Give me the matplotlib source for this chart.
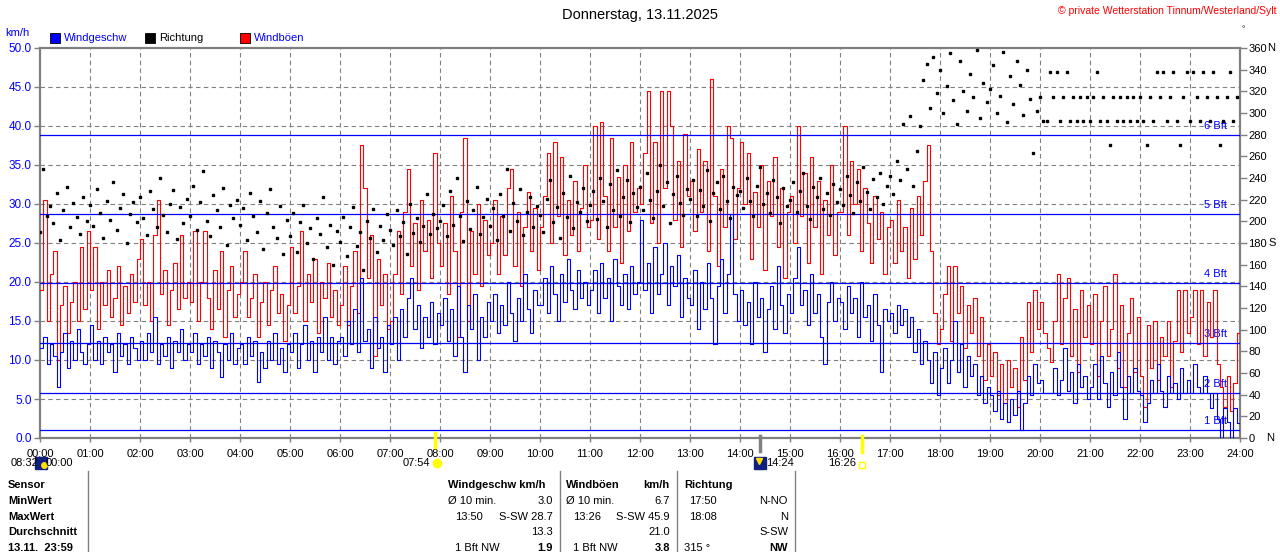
import numpy as np
import matplotlib.pyplot as plt
from matplotlib.lines import Line2D

plt.rcParams['font.family'] = ['Liberation Sans', 'DejaVu Sans']

# Werte im 4-Minuten-Raster, 15 Werte je Stunde (00 ... 23 Uhr)
windgeschw = [
    11.5, 13.0, 9.5, 12.0, 10.5, 6.5, 11.0, 13.5, 9.0, 12.5, 10.0, 14.0, 11.0, 9.5, 12.0,   # 00
    14.5, 10.0, 12.5, 9.5, 13.0, 11.0, 12.0, 8.5, 13.5, 10.5, 12.0, 9.5, 13.0, 11.5, 10.0,   # 01
    12.5, 10.0, 13.5, 11.0, 15.5, 9.5, 12.0, 10.5, 13.0, 9.0, 12.5, 11.0, 14.0, 10.0, 12.0,  # 02
    11.0, 13.5, 9.5, 12.0, 10.5, 13.0, 9.0, 12.5, 11.0, 7.8, 12.0, 10.0, 13.5, 9.5, 11.5,    # 03
    12.0, 9.5, 13.0, 10.5, 12.5, 7.2, 11.0, 9.0, 12.5, 10.0, 13.5, 9.5, 11.5, 8.5, 12.0,     # 04
    11.0, 13.5, 9.0, 12.0, 14.5, 10.0, 12.5, 8.5, 13.0, 11.0, 15.5, 10.0, 13.0, 9.5, 12.5,   # 05
    13.0, 10.5, 15.0, 12.0, 16.5, 11.0, 20.5, 12.5, 14.0, 9.0, 15.5, 11.5, 13.0, 8.5, 14.5,  # 06
    12.0, 15.5, 10.0, 16.5, 13.0, 18.0, 20.5, 14.0, 17.0, 11.5, 15.5, 13.0, 17.5, 12.0, 16.0,  # 07
    14.5, 18.0, 12.5, 16.5, 10.5, 19.5, 13.0, 8.5, 17.0, 14.0, 18.5, 10.0, 15.5, 13.0, 17.5,   # 08
    15.0, 18.5, 13.5, 17.0, 14.5, 20.0, 16.0, 12.5, 18.0, 15.0, 21.0, 16.5, 13.5, 19.0, 17.0,  # 09
    17.0, 20.5, 16.0, 22.0, 18.5, 15.0, 21.0, 17.5, 23.0, 19.0, 16.5, 21.5, 18.0, 20.0, 17.0,  # 10
    19.0, 21.5, 16.0, 22.5, 18.0, 20.5, 15.0, 23.0, 19.5, 17.0, 21.0, 16.5, 22.0, 18.5, 20.0,  # 11
    28.0, 19.0, 22.5, 16.0, 24.5, 18.5, 21.0, 25.0, 17.0, 22.0, 19.5, 23.5, 15.5, 20.5, 18.0,  # 12
    17.0, 21.5, 14.0, 20.0, 16.5, 22.5, 18.0, 12.0, 19.5, 23.0, 16.0, 21.0, 28.7, 18.5, 15.0,  # 13
    19.0, 14.5, 17.5, 12.0, 20.0, 15.5, 18.0, 11.0, 16.5, 19.5, 14.0, 22.0, 17.0, 13.5, 18.5,  # 14
    16.0, 20.5, 24.5, 17.0, 19.0, 14.5, 21.0, 16.0, 18.5, 13.0, 9.5, 17.5, 20.0, 15.0, 18.0,   # 15
    17.5, 14.0, 19.5, 16.0, 18.0, 13.0, 20.0, 15.5, 17.0, 12.5, 18.5, 14.5, 8.5, 16.5, 15.0,   # 16
    16.0, 13.5, 17.0, 14.5, 16.5, 13.0, 15.5, 11.0, 14.0, 9.5, 12.5, 10.0, 7.0, 11.0, 5.5,     # 17
    9.0, 11.5, 7.0, 10.0, 15.0, 8.5, 12.0, 6.5, 10.5, 8.0, 9.5, 5.5, 8.0, 4.5, 6.5,            # 18
    5.5, 3.5, 6.0, 2.5, 4.5, 2.0, 5.0, 3.0, 6.0, 1.0, 4.5, 8.0, 5.5, 9.5, 7.0,                 # 19
    7.5, 5.8, 5.8, 5.8, 9.0, 5.5, 7.5, 11.5, 6.0, 8.5, 4.5, 9.5, 6.5, 8.0, 5.0,                # 20
    6.5, 9.5, 5.0, 10.5, 7.0, 4.0, 8.5, 5.5, 11.0, 6.5, 2.5, 8.0, 5.8, 9.0, 6.0,               # 21
    5.5, 2.0, 4.5, 7.5, 5.8, 9.5, 6.0, 4.0, 8.0, 5.8, 7.0, 5.0, 9.0, 5.8, 7.5,                 # 22
    5.8, 9.5, 6.5, 5.8, 8.0, 5.8, 3.8, 5.8, 2.5, 0.0, 3.8, 2.0, 0.0, 3.8, 1.9,                 # 23
]

windboeen = [
    19.0, 30.5, 15.0, 21.0, 24.0, 10.0, 17.0, 19.5, 13.5, 17.5, 20.0, 15.0, 24.5, 16.5, 26.5,  # 00
    19.0, 24.5, 14.0, 20.0, 17.0, 21.5, 15.5, 18.0, 22.0, 14.5, 19.5, 16.0, 21.0, 17.5, 23.0,  # 01
    25.5, 17.0, 20.0, 15.0, 26.0, 30.5, 18.5, 21.5, 14.5, 19.0, 22.5, 16.5, 26.0, 18.0, 20.0,  # 02
    17.5, 26.5, 15.0, 20.0, 26.5, 18.0, 14.0, 21.5, 16.5, 24.0, 13.0, 19.0, 22.0, 15.5, 18.5,  # 03
    20.0, 24.0, 15.5, 18.0, 21.0, 13.0, 17.5, 20.0, 14.5, 19.0, 22.0, 16.0, 18.5, 12.5, 17.0,  # 04
    24.5, 16.0, 19.5, 26.5, 15.0, 21.0, 17.5, 23.0, 13.5, 20.0, 18.0, 22.5, 15.5, 19.0, 14.5,  # 05
    17.0, 22.0, 14.5, 19.5, 24.0, 16.0, 37.5, 32.0, 20.5, 26.0, 10.5, 23.0, 17.0, 21.0, 14.0,  # 06
    15.0, 21.0, 26.5, 18.5, 29.0, 34.5, 22.0, 27.5, 19.0, 30.5, 24.0, 28.0, 20.5, 36.5, 25.0,  # 07
    22.0, 27.5, 18.5, 31.0, 24.0, 13.0, 29.0, 38.5, 15.0, 26.5, 21.0, 30.0, 19.5, 28.0, 23.5,  # 08
    25.0, 30.5, 21.0, 28.5, 23.5, 32.0, 34.5, 22.0, 29.0, 19.5, 27.0, 31.5, 24.0, 29.5, 21.5,  # 09
    27.0, 31.0, 36.5, 25.0, 38.0, 28.5, 36.0, 23.5, 30.5, 26.0, 33.0, 24.0, 29.5, 35.0, 27.0,  # 10
    28.0, 40.0, 25.5, 40.5, 31.0, 24.0, 38.5, 27.0, 33.5, 22.5, 35.0, 26.5, 38.0, 29.0, 32.0,  # 11
    30.0, 36.5, 44.5, 27.5, 38.0, 25.0, 44.5, 32.0, 44.5, 40.0, 28.0, 35.5, 24.5, 39.0, 31.0,  # 12
    33.0, 26.5, 37.0, 29.0, 35.5, 24.0, 46.0, 31.0, 22.0, 34.5, 27.0, 40.0, 38.5, 25.5, 32.0,  # 13
    38.0, 30.0, 36.5, 23.0, 31.5, 27.0, 35.0, 21.5, 33.0, 28.5, 36.0, 24.5, 32.0, 20.5, 29.0,  # 14
    31.0, 25.0, 40.0, 28.5, 34.0, 22.5, 36.0, 27.0, 33.0, 21.0, 30.5, 26.0, 35.0, 23.5, 29.0,  # 15
    29.0, 40.0, 26.0, 35.5, 30.0, 34.5, 24.0, 32.0, 27.5, 22.5, 31.0, 25.5, 29.0, 21.0, 27.0,  # 16
    28.0, 22.5, 30.5, 24.0, 27.0, 20.5, 29.5, 23.0, 31.0, 26.0, 33.0, 37.5, 24.0, 16.0, 12.0,  # 17
    14.0, 18.5, 22.0, 12.5, 22.0, 16.0, 19.5, 11.5, 17.0, 13.5, 18.0, 10.5, 15.5, 7.5, 12.0,   # 18
    8.0, 11.0, 5.5, 9.5, 4.5, 10.0, 6.5, 9.0, 4.0, 13.0, 7.5, 17.5, 11.0, 19.0, 14.0,          # 19
    17.5, 13.5, 11.5, 9.8, 15.0, 21.0, 12.0, 18.0, 20.5, 10.5, 16.5, 8.5, 19.0, 13.0, 17.0,    # 20
    12.0, 18.5, 8.0, 15.0, 19.5, 10.5, 14.0, 21.0, 9.0, 17.0, 6.5, 13.5, 18.0, 8.5, 15.5,      # 21
    8.0, 4.0, 14.5, 9.0, 15.0, 7.5, 13.0, 10.5, 15.0, 6.5, 12.5, 19.0, 11.0, 19.0, 13.5,       # 22
    15.5, 19.0, 12.0, 19.0, 10.5, 17.5, 13.0, 19.0, 9.5, 6.5, 4.0, 8.0, 3.5, 7.0, 13.5,        # 23
]

richtung = [
    190, 248, 205, 214, 198, 226, 183, 210, 232, 195, 217, 204, 188, 222, 200,  # 00
    215, 196, 230, 208, 185, 219, 201, 236, 192, 212, 225, 180, 207, 218, 199,  # 01
    222, 203, 187, 228, 211, 195, 240, 206, 190, 216, 229, 184, 213, 198, 221,  # 02
    205, 233, 192, 218, 246, 200, 186, 224, 210, 195, 231, 178, 215, 203, 220,  # 03
    197, 212, 183, 226, 205, 190, 219, 174, 208, 230, 195, 185, 214, 170, 201,  # 04
    186, 208, 172, 199, 215, 180, 194, 165, 203, 188, 222, 176, 197, 160, 191,  # 05
    181, 204, 168, 195, 213, 177, 190, 155, 200, 185, 211, 172, 196, 183, 207,  # 06
    192, 178, 210, 186, 199, 170, 216, 189, 203, 181, 196, 225, 188, 207, 194,  # 07
    200, 215, 186, 228, 197, 240, 205, 182, 219, 193, 210, 232, 188, 204, 221,  # 08
    196, 212, 183, 225, 205, 248, 191, 217, 200, 230, 187, 209, 222, 195, 214,  # 09
    206, 190, 221, 238, 199, 213, 185, 226, 204, 242, 194, 218, 209, 231, 200,  # 10
    215, 228, 202, 240, 219, 195, 234, 210, 247, 205, 222, 238, 199, 226, 213,  # 11
    232, 210, 245, 220, 203, 228, 252, 214, 236, 198, 225, 242, 217, 206, 230,  # 12
    221, 238, 205, 229, 214, 247, 200, 226, 236, 211, 242, 219, 203, 232, 224,  # 13
    228, 212, 240, 219, 205, 233, 250, 216, 226, 208, 238, 222, 198, 231, 214,  # 14
    220, 236, 209, 228, 245, 214, 202, 232, 222, 240, 211, 226, 206, 234, 218,  # 15
    230, 215, 242, 224, 208, 236, 219, 250, 227, 211, 239, 222, 245, 216, 233,  # 16
    242, 225, 256, 238, 290, 248, 297, 233, 265, 288, 330, 345, 305, 352, 318,  # 17
    340, 300, 325, 355, 312, 290, 348, 320, 302, 336, 315, 358, 295, 328, 310,  # 18
    322, 344, 300, 316, 356, 292, 334, 308, 348, 326, 298, 340, 313, 263, 302,  # 19
    315, 292.5, 292.5, 337.5, 315, 337.5, 292.5, 315, 337.5, 292.5, 315, 292.5, 315, 292.5, 315,  # 20
    292.5, 315, 337.5, 292.5, 315, 292.5, 270, 315, 292.5, 315, 292.5, 315, 292.5, 315, 292.5,    # 21
    315, 292.5, 270, 315, 292.5, 337.5, 315, 337.5, 292.5, 315, 337.5, 292.5, 270, 315, 337.5,    # 22
    292.5, 337.5, 315, 292.5, 337.5, 315, 292.5, 337.5, 315, 270, 292.5, 315, 337.5, 292.5, 315,  # 23
]

bft_grenzen = [1.0, 5.8, 12.2, 19.9, 28.7, 38.8]
bft_namen = ['1 Bft', '2 Bft', '3 Bft', '4 Bft', '5 Bft', '6 Bft']

W, H = 1280, 552


def fx(x):
    return x / W


def fy(y):
    return 1 - y / H


t = np.arange(len(windgeschw)) * 4 / 60.0
t_step = np.append(t, 24.0)
wg = np.append(windgeschw, windgeschw[-1])
wb = np.append(windboeen, windboeen[-1])

fig = plt.figure(figsize=(12.8, 5.52), dpi=100)
ax = fig.add_axes([fx(40), fy(438), 1200 / W, 390 / H])

grau = '#808080'
blau = '#0000ff'

for h in range(1, 24):
    ax.axvline(h, color=grau, lw=0.8, ls=(0, (4, 3)), zorder=1)
for v in range(5, 50, 5):
    ax.axhline(v, color=grau, lw=0.8, ls=(0, (4, 3)), zorder=1)

for g, n in zip(bft_grenzen, bft_namen):
    ax.axhline(g, color=blau, lw=0.9, zorder=5)
    ax.text(23.74, g + 0.5, n, color=blau, fontsize=8, ha='right', va='bottom', zorder=2)

ax.plot(t_step, wb, color='#ff0000', lw=0.8, drawstyle='steps-post', zorder=3)
ax.plot(t_step, wg, color=blau, lw=0.8, drawstyle='steps-post', zorder=4)

ax.set_xlim(0, 24)
ax.set_ylim(0, 50)
ax.set_xticks(range(0, 25))
ax.set_xticklabels(['%02d:00' % h for h in range(0, 25)], fontsize=8)
ax.set_yticks(np.arange(0, 50.1, 5))
ax.set_yticklabels(['%.1f' % v for v in np.arange(0, 50.1, 5)], fontsize=8.5, color=blau)
ax.tick_params(axis='y', length=4, width=1, color=grau, pad=2)
ax.tick_params(axis='x', length=3, width=1, color=grau, pad=5)
for s in ax.spines.values():
    s.set_color(grau)
    s.set_linewidth(1.6)

ax2 = ax.twinx()
ax2.plot(t, richtung, 's', color='black', ms=2.0, zorder=6)
ax2.set_ylim(0, 360)
ax2.set_yticks(range(0, 361, 20))
ax2.set_yticklabels([str(v) for v in range(0, 361, 20)], fontsize=8)
ax2.tick_params(axis='y', length=5, width=1, color=grau, pad=1)
for s in ax2.spines.values():
    s.set_visible(False)
fig.text(fx(1267), fy(48), 'N', fontsize=8, va='center')
fig.text(fx(1268), fy(243), 'S', fontsize=8, va='center')
fig.text(fx(1266), fy(438), 'N', fontsize=8, va='center')

# Sonnen- und Mondzeiten an der Zeitachse
ax.plot([7.9, 7.9], [0.7, -1.1], color='#ffff00', lw=2.5, clip_on=False, zorder=7)
ax.plot([16.43, 16.43], [0.2, -1.8], color='#ffff00', lw=2.5, clip_on=False, zorder=7)
ax.plot([14.4, 14.4], [0.2, -1.7], color=grau, lw=2.5, clip_on=False, zorder=7)

fig.text(fx(11), fy(463), '08:32', fontsize=8, va='center')
fig.text(fx(46), fy(463), '00:00', fontsize=8, va='center')
fig.add_artist(Line2D([fx(41)], [fy(463)], marker='s', ms=8, color='#102080', transform=fig.transFigure))
fig.add_artist(Line2D([fx(44)], [fy(465)], marker='o', ms=4, color='#ffe000', transform=fig.transFigure))
fig.text(fx(403), fy(463), '07:54', fontsize=8, va='center')
fig.add_artist(Line2D([fx(437)], [fy(463)], marker='o', ms=6, color='#ffff00', transform=fig.transFigure))
fig.add_artist(Line2D([fx(760)], [fy(463)], marker='s', ms=8, color='#102080', transform=fig.transFigure))
fig.add_artist(Line2D([fx(759)], [fy(461)], marker='v', ms=4, color='#ffe000', transform=fig.transFigure))
fig.text(fx(766), fy(463), '14:24', fontsize=8, va='center')
fig.text(fx(828), fy(463), '16:26', fontsize=8, va='center')
fig.add_artist(Line2D([fx(862)], [fy(465)], marker='s', ms=4, mfc='none', mec='#ffff00',
                      transform=fig.transFigure))

# Kopf und Legende
fig.text(0.5, fy(15), 'Donnerstag, 13.11.2025', fontsize=10.5, ha='center', va='center')
fig.text(fx(1276), fy(11), '© private Wetterstation Tinnum/Westerland/Sylt', color='#ff0000',
         fontsize=7.5, ha='right', va='center')
fig.text(fx(1243), fy(30), '°', fontsize=6, ha='center', va='center')
fig.text(fx(5), fy(33), 'km/h', color=blau, fontsize=8, va='center')
for xq, farbe, name, tfarbe in [(50, blau, 'Windgeschw', blau), (145, 'black', 'Richtung', 'black'),
                                (240, '#ff0000', 'Windböen', blau)]:
    fig.add_artist(Line2D([fx(xq + 5)], [fy(38)], marker='s', ms=6.5, mfc=farbe, mec='black',
                          mew=0.6, transform=fig.transFigure))
    fig.text(fx(xq + 14), fy(38), name, color=tfarbe, fontsize=8, va='center')

# Tabelle
for xl in [88, 560, 677, 795]:
    fig.add_artist(Line2D([fx(xl), fx(xl)], [fy(471), fy(552)], color=grau, lw=1,
                          transform=fig.transFigure))
zeilen_y = [485, 501, 517, 532, 548]
zeilen = ['Sensor', 'MinWert', 'MaxWert', 'Durchschnitt', '13.11.  23:59']
for y, z in zip(zeilen_y, zeilen):
    fig.text(fx(8), fy(y), z, fontsize=8, weight='bold', va='center')

fig.text(fx(448), fy(485), 'Windgeschw km/h', fontsize=8, weight='bold', va='center')
fig.text(fx(566), fy(485), 'Windböen', fontsize=8, weight='bold', va='center')
fig.text(fx(670), fy(485), 'km/h', fontsize=8, weight='bold', va='center', ha='right')
fig.text(fx(684), fy(485), 'Richtung', fontsize=8, weight='bold', va='center')

links = [(448, 501, 'Ø 10 min.'), (455, 517, '13:50'), (566, 501, 'Ø 10 min.'), (573, 517, '13:26'),
         (689, 501, '17:50'), (689, 517, '18:08'), (455, 548, '1 Bft NW'), (573, 548, '1 Bft NW'),
         (684, 548, '315 °')]
for xq, y, s in links:
    fig.text(fx(xq), fy(y), s, fontsize=8, va='center')
rechts = [(553, 501, '3.0'), (553, 517, 'S-SW 28.7'), (553, 532, '13.3'),
          (670, 501, '6.7'), (670, 517, 'S-SW 45.9'), (670, 532, '21.0'),
          (788, 501, 'N-NO'), (788, 517, 'N'), (788, 532, 'S-SW')]
for xq, y, s in rechts:
    fig.text(fx(xq), fy(y), s, fontsize=8, va='center', ha='right')
for xq, s in [(553, '1.9'), (670, '3.8'), (788, 'NW')]:
    fig.text(fx(xq), fy(548), s, fontsize=8, weight='bold', va='center', ha='right')

fig.savefig('out.png', dpi=100)
